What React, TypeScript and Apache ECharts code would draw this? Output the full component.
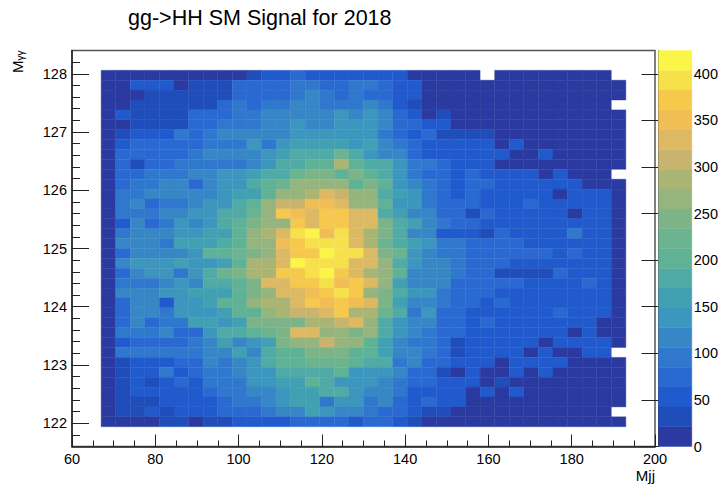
import React, { useEffect, useRef } from "react";
import * as echarts from "echarts";

const titleText = "gg->HH SM Signal for 2018";
const xTicks = [60, 80, 100, 120, 140, 160, 180, 200];
const yTicks = [122, 123, 124, 125, 126, 127, 128];
const zTicks = [0, 50, 100, 150, 200, 250, 300, 350, 400];
const zMax = 425;
const bandWidth = 21.25;
const _ = null;

const palette = [
  "#2a3aa0", "#1f4db9", "#215acd", "#2a69d2", "#3078cd", "#3787c6", "#3c96be", "#41a0b2",
  "#50aaa5", "#5fb296", "#6cb48f", "#7db487", "#96b47d", "#aab473", "#c8b46e", "#deb964",
  "#f0be55", "#f6c84b", "#f7e14b", "#faf546",
];

// Bin layout: 36 x 36 bins
const xFirstEdge = 67;
const xBinWidth = 3.5;
const yTopEdge = 128.06;
const yBinHeight = 0.17;

// Cell contents, top row (Mγγ ≈ 128) first, left to right in Mjj
const r00 = [8,8,8,8,8,8,8,8,8,8,41,52,52,74,52,52,52,52,52,52,52,8,8,8,8,8,_,8,8,8,8,8,8,8,8,_];
const r01 = [8,8,52,52,52,8,41,41,41,74,74,74,74,95,95,74,74,95,95,74,52,52,8,8,8,8,8,8,8,8,8,8,8,8,8,8];
const r02 = [8,8,8,41,41,41,41,41,41,74,74,74,74,95,117,95,74,95,74,74,52,52,8,8,8,8,8,8,8,8,8,8,8,8,8,8];
const r03 = [8,8,41,41,41,41,41,41,74,95,74,95,95,117,117,95,95,95,117,95,52,41,8,8,8,8,8,8,8,8,8,8,8,8,8,_];
const r04 = [8,52,41,41,41,41,74,74,74,95,95,117,117,117,117,117,138,117,138,117,74,52,8,41,8,8,8,8,8,8,8,8,8,8,8,8];
const r05 = [8,8,41,41,41,41,74,74,95,95,95,117,117,138,117,117,138,138,138,117,74,74,52,52,8,8,8,8,8,8,8,8,8,8,8,8];
const r06 = [8,30,52,52,52,95,74,95,117,117,117,117,117,138,138,138,138,138,138,95,74,52,74,41,41,41,41,8,8,8,8,8,8,8,8,8];
const r07 = [8,52,74,74,74,74,74,95,95,106,138,95,138,159,159,159,159,138,159,117,95,74,52,52,52,52,52,8,52,8,8,8,8,8,8,8];
const r08 = [8,74,74,74,74,74,85,117,117,117,117,138,159,180,180,180,223,180,148,117,117,74,52,52,52,52,52,52,8,8,52,8,8,8,8,8];
const r09 = [8,74,41,74,74,95,95,106,106,106,117,138,180,180,202,202,287,202,180,180,138,106,106,74,52,52,52,8,8,8,8,8,8,8,8,8];
const r10 = [8,74,74,95,95,95,117,117,138,138,159,180,180,223,244,244,202,244,202,180,138,95,74,74,52,74,52,52,52,52,8,52,8,8,8,_];
const r11 = [8,74,95,95,117,117,74,117,138,138,180,202,223,265,265,265,265,202,244,202,138,117,95,74,52,74,74,52,52,52,52,52,52,8,8,8];
const r12 = [8,95,95,117,117,117,117,117,138,159,159,212,265,265,287,329,308,265,265,180,159,138,95,74,52,74,52,52,52,52,52,8,52,52,52,8];
const r13 = [8,95,117,74,95,95,117,138,138,180,202,265,308,308,350,350,329,265,265,202,138,128,95,74,74,74,52,52,52,74,52,52,52,52,52,8];
const r14 = [8,95,95,95,117,117,138,138,170,180,223,265,372,350,329,372,372,329,329,191,159,117,117,74,74,41,74,52,52,52,52,52,8,52,52,8];
const r15 = [8,63,117,74,95,148,117,138,180,202,244,265,265,372,329,372,372,329,329,244,170,159,117,95,74,74,63,52,52,52,52,52,52,52,52,8];
const r16 = [8,95,117,117,117,138,138,159,159,202,265,287,329,393,414,350,393,329,287,244,180,117,117,63,63,52,30,74,52,52,52,52,85,52,52,8];
const r17 = [8,117,117,117,95,159,159,159,180,202,265,265,350,372,393,403,393,329,287,223,180,159,138,95,95,74,74,74,74,52,52,52,52,52,52,8];
const r18 = [8,74,117,117,117,117,138,202,202,223,244,265,329,372,382,414,393,393,329,244,223,138,117,95,95,74,74,74,74,74,74,52,74,52,52,8];
const r19 = [8,117,138,138,138,159,138,148,159,202,287,287,329,414,393,393,393,329,329,265,180,138,117,117,95,74,74,74,52,52,52,52,52,52,52,8];
const r20 = [8,74,117,138,138,106,138,180,223,244,287,287,372,372,393,414,372,329,287,265,202,117,117,117,95,74,74,41,41,41,41,74,52,52,52,8];
const r21 = [8,85,95,95,117,138,117,180,180,202,244,329,329,372,372,393,350,372,329,265,159,117,117,117,74,74,74,74,74,52,52,52,52,74,52,8];
const r22 = [8,117,117,117,128,128,159,159,159,202,244,265,329,329,350,372,393,372,265,244,180,138,138,95,74,74,74,52,52,52,52,52,52,52,52,8];
const r23 = [8,74,117,117,63,138,138,159,202,202,265,287,287,329,372,350,372,350,329,244,159,117,117,95,74,74,52,74,52,52,52,52,52,52,52,8];
const r24 = [8,74,117,117,95,138,138,138,159,202,202,265,287,308,308,329,372,287,287,223,180,95,138,74,74,52,52,52,52,52,52,74,52,52,52,8];
const r25 = [8,74,117,74,106,95,159,159,138,159,234,244,244,244,287,287,308,329,265,180,138,117,117,74,74,52,74,52,52,52,52,52,52,52,8,8];
const r26 = [8,95,95,95,117,74,74,138,180,180,202,223,244,329,329,265,265,244,265,180,138,117,95,74,74,52,52,52,52,52,52,52,8,52,8,8];
const r27 = [8,52,74,74,74,74,95,117,159,117,138,159,244,265,265,308,265,265,202,159,117,95,95,74,41,52,52,52,52,52,19,52,52,52,52,8];
const r28 = [8,95,95,95,95,95,95,117,117,159,117,180,202,202,244,244,244,202,202,159,117,117,95,74,41,52,52,52,52,8,52,8,8,52,52,_];
const r29 = [8,30,52,52,63,74,74,117,85,117,138,180,202,202,223,223,223,202,180,180,95,117,74,74,52,52,52,8,52,52,52,52,8,8,8,8];
const r30 = [8,41,52,52,85,63,74,95,95,117,138,138,180,180,180,180,202,138,138,138,117,74,74,41,8,52,8,8,52,8,52,8,8,8,8,8];
const r31 = [8,41,52,30,52,74,63,95,95,95,138,138,159,159,202,180,138,138,138,117,95,74,74,52,52,52,8,41,8,8,8,8,8,8,8,8];
const r32 = [8,30,52,52,52,52,52,74,95,95,117,117,138,159,159,180,180,138,117,117,85,52,52,52,52,8,52,8,52,8,8,8,8,8,8,8];
const r33 = [8,30,30,30,52,52,52,63,74,95,95,117,138,159,159,95,138,138,85,117,74,63,74,52,52,8,8,8,8,8,8,8,8,8,8,8];
const r34 = [8,30,30,63,30,52,52,63,74,74,74,95,117,117,159,138,117,117,95,74,74,52,41,41,8,8,8,8,8,8,8,8,8,8,8,_];
const r35 = [8,8,8,8,30,30,8,30,30,63,63,63,63,74,74,74,74,63,74,74,63,30,8,8,8,8,8,8,8,8,8,8,8,8,8,8];

const rows = [
  r00, r01, r02, r03, r04, r05, r06, r07, r08, r09, r10, r11, r12, r13, r14, r15, r16, r17,
  r18, r19, r20, r21, r22, r23, r24, r25, r26, r27, r28, r29, r30, r31, r32, r33, r34, r35,
];

const cells: number[][] = [];
rows.forEach((row, j) =>
  row.forEach((v, i) => {
    if (v !== null) {
      cells.push([
        xFirstEdge + i * xBinWidth,
        xFirstEdge + (i + 1) * xBinWidth,
        yTopEdge - (j + 1) * yBinHeight,
        yTopEdge - j * yBinHeight,
        v as number,
      ]);
    }
  })
);
const bands = palette.map((_c, i) => [0, 1, i * bandWidth, (i + 1) * bandWidth, i]);

const font = "Liberation Sans";

const rectItem = (fill: (api: any) => string) => (_p: any, api: any) => {
  const a = api.coord([api.value(0), api.value(3)]);
  const b = api.coord([api.value(1), api.value(2)]);
  const c = fill(api);
  return {
    type: "rect",
    shape: { x: a[0], y: a[1], width: b[0] - a[0], height: b[1] - a[1] },
    style: { fill: c, stroke: c, lineWidth: 0.4 },
  };
};

export default function App() {
  const ref = useRef<HTMLDivElement>(null);
  useEffect(() => {
    const chart = echarts.init(ref.current!, undefined, { renderer: "svg" });
    chart.setOption({
      animation: false,
      backgroundColor: "#ffffff",
      title: {
        text: titleText,
        left: 128,
        top: 7,
        padding: 0,
        textStyle: { fontFamily: font, fontSize: 21.5, fontWeight: "normal", color: "#000" },
      },
      grid: [
        { left: 72, right: 66, top: 50.5, height: 396, show: true, borderColor: "#555", borderWidth: 1.5, backgroundColor: "#fff" },
        { left: 658.5, width: 34, top: 50.5, height: 396, show: false },
      ],
      xAxis: [
        {
          gridIndex: 0,
          type: "value",
          min: xTicks[0],
          max: xTicks[xTicks.length - 1],
          interval: 20,
          splitLine: { show: false },
          axisLine: { show: true, onZero: false, lineStyle: { color: "#222", width: 1.5 } },
          axisTick: { show: true, inside: true, length: 12, lineStyle: { color: "#222", width: 1 } },
          minorTick: { show: true, splitNumber: 4, length: 6, lineStyle: { color: "#222", width: 1 } },
          axisLabel: { fontFamily: font, fontSize: 14.5, color: "#000", margin: 5 },
          name: "Mjj",
          nameLocation: "end",
          nameGap: 0,
          nameTextStyle: { fontFamily: font, fontSize: 15, color: "#000", align: "right", verticalAlign: "top", padding: [21, 0, 0, 0] },
        },
        { gridIndex: 1, type: "value", min: 0, max: 1, show: false },
      ],
      yAxis: [
        {
          gridIndex: 0,
          type: "value",
          min: 121.6,
          max: 128.4,
          splitNumber: 7,
          splitLine: { show: false },
          axisLine: { show: true, onZero: false, lineStyle: { color: "#222", width: 1.5 } },
          axisTick: { show: true, inside: true, length: 17, customValues: yTicks, lineStyle: { color: "#222", width: 1 } },
          minorTick: { show: true, splitNumber: 5, length: 8, lineStyle: { color: "#222", width: 1 } },
          axisLabel: { fontFamily: font, fontSize: 14.5, color: "#000", margin: 5, customValues: yTicks },
          name: "{m|M}{s|γγ}",
          nameLocation: "end",
          nameRotate: 90,
          nameGap: 0,
          nameTextStyle: {
            align: "right",
            verticalAlign: "bottom",
            padding: [0, 0, 47, 0],
            rich: {
              m: { fontFamily: font, fontSize: 15, color: "#000" },
              s: { fontFamily: font, fontSize: 10, color: "#000", verticalAlign: "bottom", padding: [6, 0, 0, 0] },
            },
          },
        },
        {
          gridIndex: 1,
          type: "value",
          position: "right",
          min: 0,
          max: zMax,
          splitLine: { show: false },
          axisLine: { show: true, lineStyle: { color: "#444", width: 1 } },
          axisTick: { show: true, inside: true, length: 17, customValues: zTicks, lineStyle: { color: "#222", width: 1 } },
          axisLabel: { fontFamily: font, fontSize: 14.5, color: "#000", margin: 2, customValues: zTicks },
        },
      ],
      series: [
        {
          type: "custom",
          xAxisIndex: 0,
          yAxisIndex: 0,
          data: cells,
          encode: { x: [0, 1], y: [2, 3] },
          renderItem: rectItem((api) => palette[Math.min(palette.length - 1, Math.floor(api.value(4) / bandWidth))]),
          silent: true,
          z: 1,
        },
        {
          type: "custom",
          xAxisIndex: 1,
          yAxisIndex: 1,
          data: bands,
          encode: { x: [0, 1], y: [2, 3] },
          renderItem: rectItem((api) => palette[api.value(4)]),
          silent: true,
          z: 1,
        },
      ],
    });
    return () => chart.dispose();
  }, []);
  return <div ref={ref} style={{ position: "absolute", left: 0, top: 0, width: 721, height: 484 }} />;
}
